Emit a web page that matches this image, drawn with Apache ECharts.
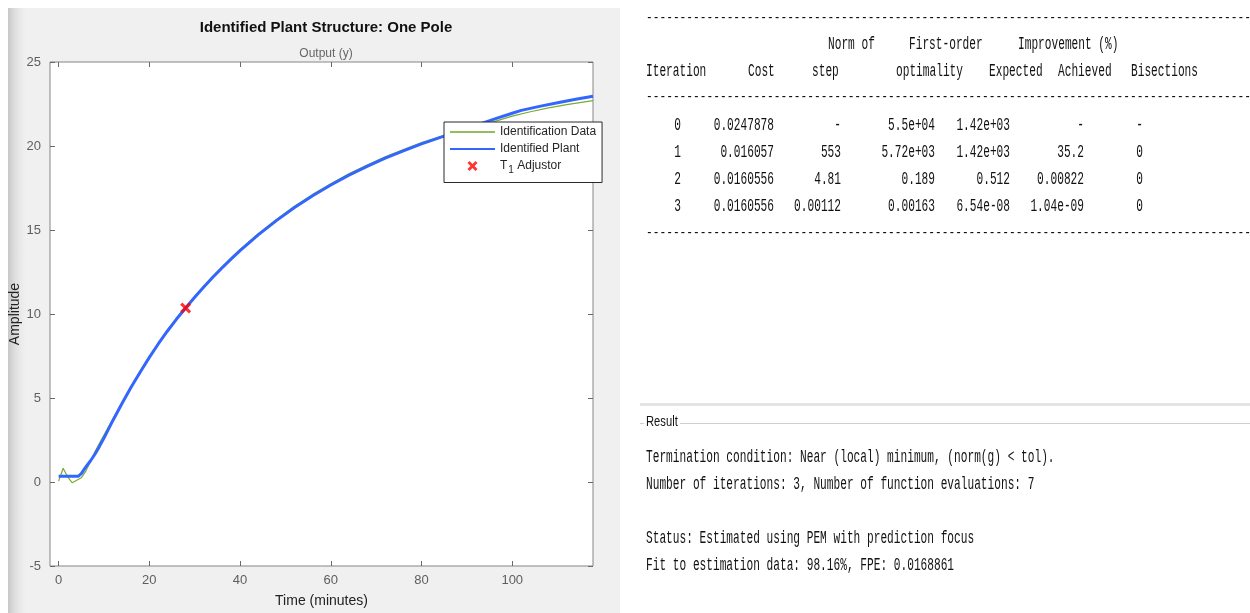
<!DOCTYPE html>
<html>
<head>
<meta charset="utf-8">
<script src="https://cdn.jsdelivr.net/npm/echarts@6/dist/echarts.min.js"></script>
<style>
  html, body { margin: 0; padding: 0; background: #ffffff; }
  #wrap { position: relative; width: 1250px; height: 613px; overflow: hidden; background: #ffffff; }
  #panel { position: absolute; left: 8px; top: 8px; width: 612px; height: 605px;
           background: linear-gradient(to right, #c8c8c8 0px, #dcdcdc 6px, #e9e9e9 12px, #f0f0f0 18px, #f0f0f0 100%); }
  #chart { position: absolute; left: 0; top: 0; width: 1250px; height: 613px; }
</style>
</head>
<body>
<div id="wrap">
  <div id="panel"></div>
  <div id="chart"></div>
</div>
<script>
// Measured output (identification data)
const dataTime = [0, 1, 2, 3, 4, 5, 6, 7, 8, 9, 10, 12, 14, 16, 18, 20, 22, 24, 26, 28, 30, 32, 34, 36, 38, 40,
  44, 48, 52, 56, 60, 64, 68, 72, 76, 80, 84, 88, 92, 96, 100, 104, 108, 112, 117.8];
const dataOutput = [0.05, 0.82, 0.3, -0.05, 0.1, 0.25, 0.65, 1.2, 1.8, 2.3, 2.8, 3.78, 4.75, 5.7, 6.6, 7.45, 8.27, 9.05, 9.75, 10.4, 11.05, 11.66, 12.25, 12.8, 13.33, 13.84,
  14.78, 15.63, 16.42, 17.12, 17.75, 18.34, 18.87, 19.36, 19.79, 20.2, 20.55, 20.86, 21.16, 21.45, 21.78, 22.04, 22.27, 22.46, 22.7];

// Response of the identified one-pole plant
const plantTime = [0, 4.3, 5, 6, 7, 8, 9, 10, 11, 12, 14, 16, 18, 20, 22, 24, 26, 28, 30, 32, 34, 36, 38, 40,
  44, 48, 52, 56, 60, 64, 68, 72, 76, 80, 84, 88, 92, 96, 100, 102, 106, 110, 114, 117.8];
const plantOutput = [0.34, 0.34, 0.5, 0.9, 1.25, 1.65, 2.12, 2.62, 3.15, 3.68, 4.69, 5.65, 6.55, 7.42, 8.23, 8.99, 9.7, 10.36, 11.0, 11.61, 12.19, 12.74, 13.27, 13.77,
  14.71, 15.56, 16.34, 17.04, 17.68, 18.27, 18.79, 19.28, 19.71, 20.13, 20.5, 20.87, 21.22, 21.6, 21.95, 22.12, 22.36, 22.58, 22.78, 22.96];

// T1 adjustor handle
const adjustorPoint = [28, 10.36];

const xTicks = [0, 20, 40, 60, 80, 100];

// Estimation report
const headerTop = ['Norm of', 'First-order', 'Improvement (%)'];
const headerMain = ['Iteration', 'Cost', 'step', 'optimality', 'Expected', 'Achieved', 'Bisections'];
const iterations = ['0', '1', '2', '3'];
const costs = ['0.0247878', '0.016057', '0.0160556', '0.0160556'];
const stepNorms = ['-', '553', '4.81', '0.00112'];
const optimality = ['5.5e+04', '5.72e+03', '0.189', '0.00163'];
const expected = ['1.42e+03', '1.42e+03', '0.512', '6.54e-08'];
const achieved = ['-', '35.2', '0.00822', '1.04e-09'];
const bisections = ['-', '0', '0', '0'];
const resultTitle = 'Result';
const resultLines = [
  'Termination condition: Near (local) minimum, (norm(g) < tol).',
  'Number of iterations: 3, Number of function evaluations: 7',
  '',
  'Status: Estimated using PEM with prediction focus',
  'Fit to estimation data: 98.16%, FPE: 0.0168861'
];

const toPairs = (xs, ys) => xs.map((x, i) => [x, ys[i]]);

// ---- report text layout ----
const MONO = '18px "Liberation Mono", "DejaVu Sans Mono", monospace';
const SQUEEZE = 0.62;
const ink = '#111111';
function mono(text, x, y, align) {
  return {
    type: 'text', x: x, y: y, scaleX: SQUEEZE, z: 10,
    style: { text: text, font: MONO, fill: ink, textAlign: align || 'left', textVerticalAlign: 'middle' }
  };
}
// rule lines made of hyphens: smaller glyph, same character pitch
function rule(y) {
  return {
    type: 'text', x: 646, y: y, scaleX: 0.8, z: 10,
    style: { text: '-'.repeat(96), font: '14px "Liberation Mono", "DejaVu Sans Mono", monospace', fill: ink, textAlign: 'left', textVerticalAlign: 'middle' }
  };
}
const reportLeft = 646;
const report = [];
report.push(rule(18));
const topX = [828, 909, 1018];
headerTop.forEach((t, i) => report.push(mono(t, topX[i], 44)));
const mainX = [646, 748, 812, 896, 989, 1058, 1131];
headerMain.forEach((t, i) => report.push(mono(t, mainX[i], 71)));
report.push(rule(97));
const columns = [iterations, costs, stepNorms, optimality, expected, achieved, bisections];
const colRight = [681, 774, 841, 935, 1010, 1084, 1143];
const rowY = [125, 152, 179, 206];
columns.forEach((col, c) => col.forEach((v, r) => report.push(mono(v, colRight[c], rowY[r], 'right'))));
report.push(rule(233));

// panel separator and "Result" group box
report.push({ type: 'rect', z: 5, shape: { x: 640, y: 403, width: 610, height: 3 }, style: { fill: '#e4e4e4' } });
report.push({ type: 'line', z: 5, shape: { x1: 640, y1: 423.5, x2: 644, y2: 423.5 }, style: { stroke: '#cfcfcf', lineWidth: 1 } });
report.push({ type: 'line', z: 5, shape: { x1: 680, y1: 423.5, x2: 1250, y2: 423.5 }, style: { stroke: '#cfcfcf', lineWidth: 1 } });
report.push({
  type: 'text', x: 646, y: 422, scaleX: 0.8, z: 10,
  style: { text: resultTitle, font: '14px "Liberation Sans", Arial, sans-serif', fill: ink, textAlign: 'left', textVerticalAlign: 'middle' }
});
const resultY = [457, 484, 511, 538, 565];
resultLines.forEach((t, i) => { if (t) report.push(mono(t, reportLeft, resultY[i])); });

// filled "x" marker
const crossPath = 'path://M2,0 L5,3 L8,0 L10,2 L7,5 L10,8 L8,10 L5,7 L2,10 L0,8 L3,5 L0,2 Z';

const tickStyle = { show: true, inside: true, length: 5, lineStyle: { color: '#6a6a6a', width: 1 } };
const hiddenLine = { show: false, onZero: false };
const labelFont = { fontFamily: '"Liberation Sans", Arial, sans-serif', fontSize: 13, color: '#5e5e5e' };
const noMarker = { color: 'rgba(0,0,0,0)', borderColor: 'rgba(0,0,0,0)', borderWidth: 0, opacity: 0 };

const chart = echarts.init(document.getElementById('chart'), null, { renderer: 'canvas' });
chart.setOption({
  backgroundColor: 'transparent',
  animation: false,
  textStyle: { fontFamily: '"Liberation Sans", Arial, sans-serif' },
  title: [
    {
      text: 'Identified Plant Structure: One Pole', left: 321, top: 15, textAlign: 'center',
      textStyle: { fontSize: 15, fontWeight: 'bold', color: '#111111', fontFamily: '"Liberation Sans", Arial, sans-serif' }
    },
    {
      text: 'Output (y)', left: 321, top: 43, textAlign: 'center',
      textStyle: { fontSize: 12, fontWeight: 'normal', color: '#666666', fontFamily: '"Liberation Sans", Arial, sans-serif' }
    }
  ],
  grid: {
    left: 50, top: 62, width: 543, height: 506,
    show: true, backgroundColor: '#ffffff', borderColor: '#868686', borderWidth: 1,
    containLabel: false
  },
  legend: {
    orient: 'vertical', left: 444, top: 122,
    itemWidth: 45, itemHeight: 10, itemGap: 5,
    padding: [4, 6, 7, 5],
    backgroundColor: '#ffffff', borderColor: '#2a2a2a', borderWidth: 1, borderRadius: 0,
    data: [
      { name: 'Identification Data', itemStyle: noMarker, lineStyle: { color: '#93bd60', width: 2 } },
      { name: 'Identified Plant', itemStyle: noMarker },
      { name: 'T1 Adjustor' }
    ],
    formatter: name => name === 'T1 Adjustor' ? '{t|T}{s|1}{t| Adjustor}' : name,
    textStyle: {
      fontSize: 12, color: '#262626', fontFamily: '"Liberation Sans", Arial, sans-serif',
      rich: {
        t: { fontSize: 12, color: '#262626' },
        s: { fontSize: 10, color: '#262626', padding: [9, 0, 0, 1] }
      }
    }
  },
  xAxis: [
    {
      type: 'value', position: 'bottom', min: -1.9, max: 117.8,
      name: 'Time (minutes)', nameLocation: 'middle', nameGap: 28,
      nameTextStyle: { fontSize: 14, color: '#222222' },
      axisLine: hiddenLine,
      axisTick: Object.assign({ customValues: xTicks }, tickStyle),
      axisLabel: Object.assign({ customValues: xTicks, margin: 8 }, labelFont),
      splitLine: { show: false }
    },
    {
      type: 'value', position: 'top', min: -1.9, max: 117.8,
      axisLine: hiddenLine,
      axisTick: Object.assign({ customValues: xTicks }, tickStyle),
      axisLabel: { show: false },
      splitLine: { show: false }
    }
  ],
  yAxis: [
    {
      type: 'value', position: 'left', min: -5, max: 25, interval: 5,
      name: 'Amplitude', nameLocation: 'middle', nameGap: 28,
      nameTextStyle: { fontSize: 14, color: '#222222' },
      axisLine: hiddenLine,
      axisTick: tickStyle,
      axisLabel: Object.assign({ margin: 9 }, labelFont),
      splitLine: { show: false }
    },
    {
      type: 'value', position: 'right', min: -5, max: 25, interval: 5,
      axisLine: hiddenLine,
      axisTick: tickStyle,
      axisLabel: { show: false },
      splitLine: { show: false }
    }
  ],
  series: [
    {
      name: 'Identification Data', type: 'line', symbol: 'none', clip: true,
      data: toPairs(dataTime, dataOutput),
      lineStyle: { color: '#77ac30', width: 1.2 },
      itemStyle: { color: '#77ac30' },
      z: 2
    },
    {
      name: 'Identified Plant', type: 'line', symbol: 'none', clip: true,
      data: toPairs(plantTime, plantOutput),
      lineStyle: { color: '#3366ff', width: 3 },
      itemStyle: { color: '#3366ff' },
      z: 3
    },
    {
      name: 'T1 Adjustor', type: 'scatter', symbol: crossPath, symbolSize: 11, symbolKeepAspect: true,
      data: [adjustorPoint],
      itemStyle: { color: '#ff0000' },
      z: 4
    }
  ],
  graphic: report
});
</script>
</body>
</html>
